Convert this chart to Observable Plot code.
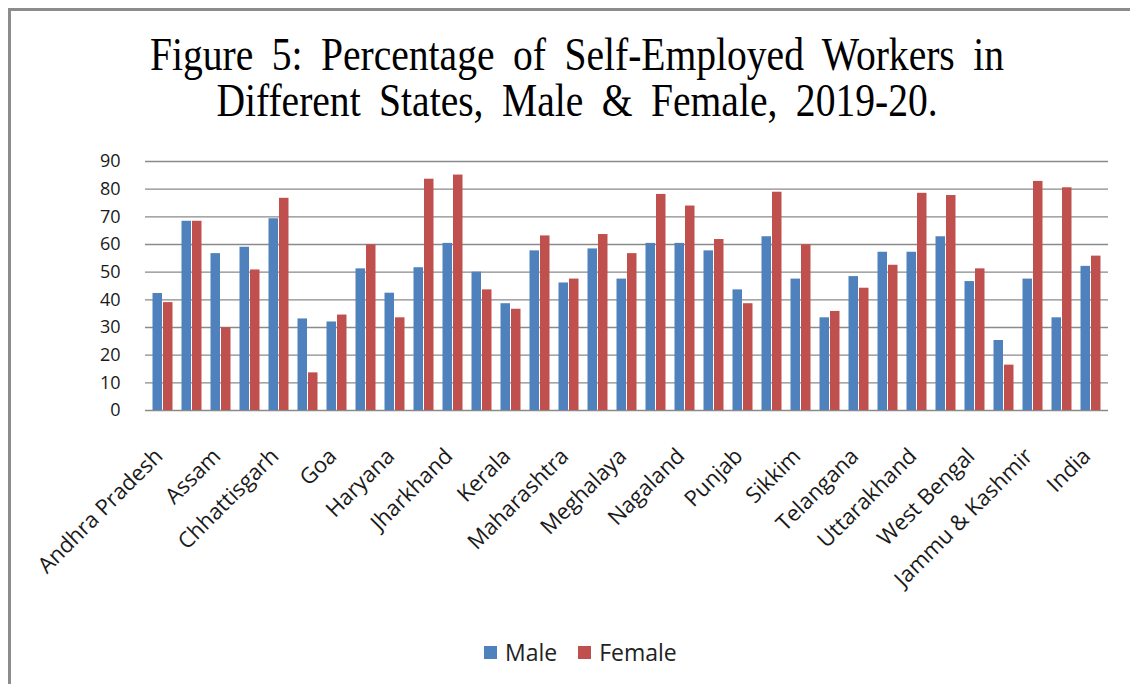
<!DOCTYPE html>
<html>
<head>
<meta charset="utf-8">
<script src="https://cdn.jsdelivr.net/npm/d3@7"></script>
<script src="https://cdn.jsdelivr.net/npm/@observablehq/plot@0.6"></script>
<style>
  html, body { margin: 0; padding: 0; background: #fff; }
  #chart { position: relative; width: 1130px; height: 684px; overflow: hidden; background: #fff; }
  #frame { position: absolute; left: 8px; top: 8px; width: 1400px; height: 900px;
           border-left: 3px solid #8c8c8c; border-top: 3px solid #8c8c8c; }
  #title { position: absolute; left: 12px; top: 32px; width: 1130px; text-align: center;
           font-family: "Liberation Serif", "Times New Roman", serif; font-size: 46px;
           line-height: 46px; color: #000; word-spacing: 10px;
           transform: scaleX(0.86); transform-origin: 565px 0; }
  #plot { position: absolute; left: 0; top: 130px; }
  #legend { position: absolute; top: 636px; left: 484px; display: flex; align-items: center;
            font-family: "Open Sans", sans-serif; font-size: 23px; color: #222; }
  .sw { display: inline-block; width: 13px; height: 13px; margin-right: 8px; }
  .item { display: inline-flex; align-items: center; margin-right: 21px; }
</style>
</head>
<body>
<div id="chart">
  <div id="frame"></div>
  <div id="title">Figure 5: Percentage of Self-Employed Workers in<br>Different States, Male &amp; Female, 2019-20.</div>
  <div id="plot"></div>
  <div id="legend"></div>
</div>
<script>
// States / UTs in display order (every other one is labelled on the axis)
const states = [
  "Andhra Pradesh", "Arunachal Pradesh", "Assam", "Bihar", "Chhattisgarh",
  "Delhi", "Goa", "Gujarat", "Haryana", "Himachal Pradesh",
  "Jharkhand", "Karnataka", "Kerala", "Madhya Pradesh", "Maharashtra",
  "Manipur", "Meghalaya", "Mizoram", "Nagaland", "Odisha",
  "Punjab", "Rajasthan", "Sikkim", "Tamil Nadu", "Telangana",
  "Tripura", "Uttarakhand", "Uttar Pradesh", "West Bengal", "Chandigarh",
  "Jammu & Kashmir", "Ladakh", "India"
];

// Share of self-employed workers (%), 2019-20
const male = [
  42.3, 68.4, 56.7, 59.0, 69.3,
  33.1, 32.0, 51.2, 42.4, 51.6,
  60.4, 50.0, 38.6, 57.7, 46.1,
  58.4, 47.5, 60.4, 60.4, 57.7,
  43.6, 62.8, 47.5, 33.5, 48.4,
  57.2, 57.2, 62.8, 46.6, 25.3,
  47.5, 33.5, 52.1
];
const female = [
  39.0, 68.4, 29.9, 50.8, 76.7,
  13.6, 34.5, 59.9, 33.5, 83.6,
  85.1, 43.6, 36.6, 63.1, 47.5,
  63.6, 56.7, 78.1, 73.9, 61.8,
  38.6, 78.9, 59.9, 35.8, 44.2,
  52.5, 78.5, 77.7, 51.2, 16.4,
  82.8, 80.5, 55.8
];

const series = ["Male", "Female"];
const colors = ["#4F81BD", "#C0504D"];
const yTicks = [0, 10, 20, 30, 40, 50, 60, 70, 80, 90];
const xTicks = states.filter((d, i) => i % 2 === 0);

const rows = states.map((s, i) => ({state: s, male: male[i], female: female[i]}));

const W = 1130, marginLeft = 145, marginRight = 22;
const padInner = 0.28;
const step = (W - marginLeft - marginRight) / states.length;
const half = step * (1 - padInner) / 2;

const chart = Plot.plot({
  width: W,
  height: 554,
  marginLeft,
  marginRight,
  marginTop: 31,
  marginBottom: 274,
  style: {fontFamily: "Open Sans, sans-serif", fontSize: "18px", color: "#1a1a1a", background: "transparent", overflow: "visible"},
  x: {domain: states, paddingInner: padInner, paddingOuter: padInner / 2},
  y: {domain: [0, 90]},
  marks: [
    Plot.ruleY(yTicks, {stroke: "#8a8a8a", strokeWidth: 1.3}),
    Plot.barY(rows, {x: "state", y: "male", fill: colors[0], insetRight: half + 0.5, insetLeft: 0.5}),
    Plot.barY(rows, {x: "state", y: "female", fill: colors[1], insetLeft: half + 0.5, insetRight: 0.5}),
    Plot.axisY({ticks: yTicks, tickSize: 0, tickPadding: 25, label: null, fontSize: 18}),
    Plot.axisX({ticks: xTicks, tickSize: 0, tickPadding: 42, tickRotate: -45, label: null, fontSize: 22, dx: -4})
  ]
});
document.getElementById("plot").appendChild(chart);

// Legend
const legend = document.getElementById("legend");
series.forEach((name, i) => {
  const item = document.createElement("span");
  item.className = "item";
  const sw = document.createElement("span");
  sw.className = "sw";
  sw.style.background = colors[i];
  item.appendChild(sw);
  item.appendChild(document.createTextNode(name));
  legend.appendChild(item);
});
</script>
</body>
</html>
